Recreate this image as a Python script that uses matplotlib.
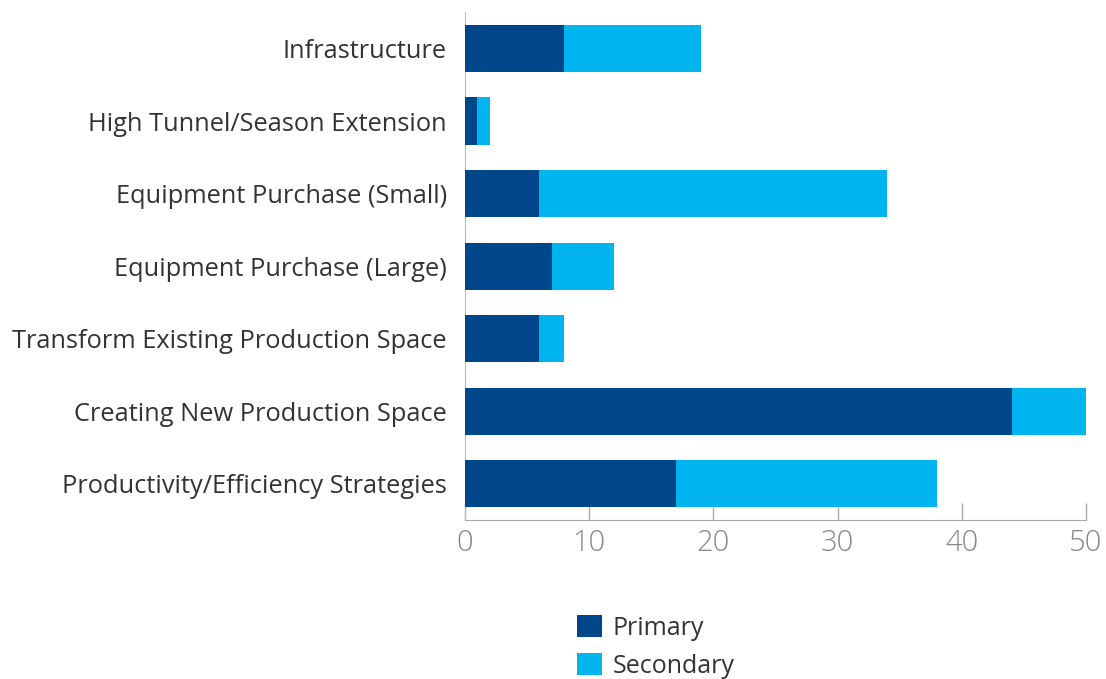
import matplotlib
matplotlib.use("Agg")
import matplotlib.pyplot as plt
import numpy as np

categories = ["Infrastructure", "High Tunnel/Season Extension", "Equipment Purchase (Small)",
              "Equipment Purchase (Large)", "Transform Existing Production Space",
              "Creating New Production Space", "Productivity/Efficiency Strategies"]
primary = [8, 1, 6, 7, 6, 44, 17]
secondary = [11, 1, 28, 5, 2, 6, 21]
x_ticks = [0, 10, 20, 30, 40, 50]

c_primary = "#00468b"
c_secondary = "#00b4ee"

plt.rcParams["font.family"] = ["Open Sans", "DejaVu Sans"]

fig = plt.figure(figsize=(11.06, 6.79), dpi=100)
ax = fig.add_axes([0.4204, 0.234, 0.5616, 0.748])

y = np.arange(len(categories))
ax.barh(y, primary, height=0.65, color=c_primary, label="Primary", zorder=3)
ax.barh(y, secondary, left=primary, height=0.65, color=c_secondary, label="Secondary", zorder=3)

ax.set_ylim(len(categories) - 0.5, -0.5)
ax.set_xlim(0, 50)
ax.set_yticks(y)
ax.set_yticklabels(categories, fontsize=18.3, color="#333333")
ax.tick_params(axis="y", length=0, pad=13)
ax.set_xticks(x_ticks)
ax.set_xticklabels([str(t) for t in x_ticks], fontsize=21, color="#888888", fontweight="light")
ax.tick_params(axis="x", direction="in", length=12, width=1, color="#aaaaaa", pad=6)

for s in ["top", "right"]:
    ax.spines[s].set_visible(False)
ax.spines["left"].set_color("#bbbbbb")
ax.spines["bottom"].set_color("#aaaaaa")

fig.legend(loc="upper left", bbox_to_anchor=(0.510, 0.113), frameon=False,
           fontsize=18, handlelength=1.0, handleheight=1.0, handletextpad=0.45,
           labelspacing=0.5, borderpad=0, labelcolor="#333333")

fig.savefig("out.png", dpi=100)
